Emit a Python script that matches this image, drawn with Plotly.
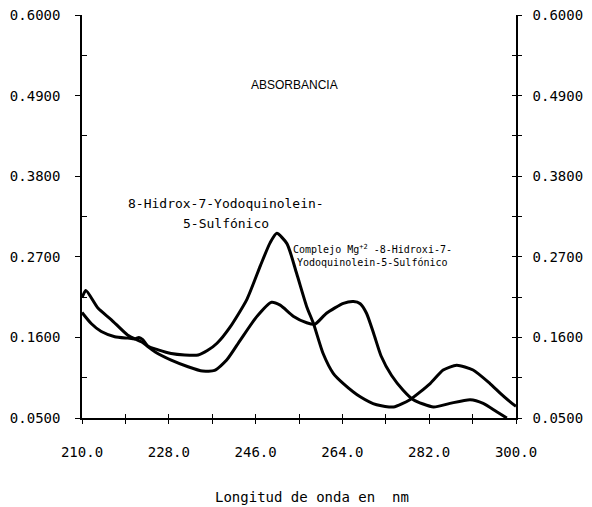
import plotly.graph_objects as go

# Absorption spectra: free ligand and its Mg(II) complex
wl_ligando = [210.0, 211.9, 214.0, 216.8, 219.5, 221.0, 221.8, 222.6, 223.7, 225.8,
              228.5, 231.3, 234.1, 236.0, 238.0, 240.7, 244.2, 247.0, 249.0, 250.4,
              252.5, 254.5, 256.6, 258.0, 260.0, 262.1, 264.2, 267.7, 271.1, 274.6,
              278.0, 282.2, 284.9, 287.7, 291.1, 294.6, 296.7, 298.8, 300.0]
abs_ligando = [0.194, 0.179, 0.168, 0.161, 0.159, 0.158, 0.160, 0.157, 0.148, 0.143,
               0.138, 0.136, 0.136, 0.142, 0.152, 0.174, 0.212, 0.258, 0.289, 0.302,
               0.288, 0.2475, 0.202, 0.179, 0.138, 0.111, 0.097, 0.079, 0.068, 0.065,
               0.075, 0.097, 0.1155, 0.122, 0.1155, 0.097, 0.084, 0.072, 0.066]

wl_complejo = [210.0, 210.8, 213.3, 216.1, 219.5, 222.3, 225.1, 228.5, 232.0, 235.0,
               237.5, 240.0, 242.8, 246.2, 249.3, 251.1, 253.8, 256.6, 258.3, 260.7,
               264.2, 266.3, 267.7, 269.0, 270.5, 272.0, 274.2, 276.6, 278.7, 282.9,
               286.3, 290.5, 293.2, 296.0, 298.1]
abs_complejo = [0.214, 0.224, 0.200, 0.184, 0.163, 0.154, 0.1405, 0.129, 0.120, 0.114,
                0.115, 0.129, 0.156, 0.188, 0.208, 0.204, 0.189, 0.180, 0.178, 0.193,
                0.2065, 0.209, 0.206, 0.193, 0.165, 0.135, 0.108, 0.088, 0.075, 0.065,
                0.070, 0.075, 0.070, 0.0586, 0.050]

# Axis ticks
x_major = [210, 228, 246, 264, 282, 300]
x_major_text = ["210.0", "228.0", "246.0", "264.0", "282.0", "300.0"]
x_minor = [219, 237, 255, 273, 291]
y_major = [0.05, 0.16, 0.27, 0.38, 0.49, 0.60]
y_major_text = ["0.0500", "0.1600", "0.2700", "0.3800", "0.4900", "0.6000"]
y_minor = [0.105, 0.215, 0.325, 0.435, 0.545]

MONO = "DejaVu Sans Mono"

fig = go.Figure()
fig.add_trace(go.Scatter(x=wl_ligando, y=abs_ligando, mode="lines",
                         line=dict(color="black", width=3, shape="spline", smoothing=0.6),
                         showlegend=False, hoverinfo="skip"))
fig.add_trace(go.Scatter(x=wl_complejo, y=abs_complejo, mode="lines",
                         line=dict(color="black", width=3, shape="spline", smoothing=0.6),
                         showlegend=False, hoverinfo="skip"))
# helper traces so the overlaying axes get drawn
fig.add_trace(go.Scatter(x=[None], y=[None], xaxis="x2", yaxis="y", showlegend=False))
fig.add_trace(go.Scatter(x=[None], y=[None], xaxis="x", yaxis="y2", showlegend=False))
fig.add_trace(go.Scatter(x=[None], y=[None], xaxis="x", yaxis="y3", showlegend=False))
fig.add_trace(go.Scatter(x=[None], y=[None], xaxis="x", yaxis="y4", showlegend=False))

tick_font = dict(family=MONO, size=14, color="black")
tk = dict(tickwidth=1, tickcolor="black")

fig.update_layout(
    width=592, height=507,
    margin=dict(l=82, r=76, t=15, b=89, autoexpand=False),
    paper_bgcolor="white", plot_bgcolor="white",
    xaxis=dict(range=[210, 300], showgrid=False, zeroline=False, automargin=False,
               showline=True, linecolor="black", linewidth=1.5,
               tickmode="array", tickvals=x_major, ticktext=x_major_text,
               ticks="outside", ticklen=4, **tk,
               minor=dict(tickmode="array", tickvals=x_minor, ticks="outside",
                          ticklen=4, showgrid=False, **tk),
               tickfont=tick_font, ticklabelstandoff=16),
    xaxis2=dict(range=[210, 300], overlaying="x", anchor="y", side="bottom",
                showgrid=False, zeroline=False, showline=False, automargin=False,
                tickmode="array", tickvals=sorted(x_major + x_minor),
                ticks="inside", ticklen=4, showticklabels=False, **tk),
    yaxis=dict(range=[0.05, 0.6], showgrid=False, zeroline=False, automargin=False,
               showline=True, linecolor="black", linewidth=1.5,
               tickmode="array", tickvals=y_major, ticktext=y_major_text,
               ticks="outside", ticklen=5, **tk,
               tickfont=tick_font, ticklabelstandoff=12),
    # inner ticks on the left axis
    yaxis4=dict(range=[0.05, 0.6], overlaying="y", anchor="x", side="left",
                showgrid=False, zeroline=False, showline=False, automargin=False,
                tickmode="array", tickvals=y_minor + [0.6], ticks="inside",
                ticklen=5, showticklabels=False, **tk),
    yaxis2=dict(range=[0.05, 0.6], overlaying="y", anchor="x", side="right",
                showgrid=False, zeroline=False, automargin=False,
                showline=True, linecolor="black", linewidth=1.5,
                tickmode="array", tickvals=y_major, ticktext=y_major_text,
                ticks="outside", ticklen=4, **tk,
                minor=dict(tickmode="array", tickvals=y_minor, ticks="outside",
                           ticklen=4, showgrid=False, **tk),
                tickfont=tick_font, ticklabelstandoff=8),
    yaxis3=dict(range=[0.05, 0.6], overlaying="y", anchor="x", side="right",
                showgrid=False, zeroline=False, showline=False, automargin=False,
                tickmode="array", tickvals=sorted(y_major + y_minor),
                ticks="inside", ticklen=4, showticklabels=False, **tk),
)

annotations = [
    dict(text="ABSORBANCIA", x=0.49, y=0.827, xref="paper", yref="paper",
         font=dict(family="Liberation Sans", size=12, color="black")),
    dict(text="8-Hidrox-7-Yodoquinolein-", x=239.8, y=0.343,
         font=dict(family=MONO, size=13, color="black")),
    dict(text="5-Sulfónico", x=239.8, y=0.315,
         font=dict(family=MONO, size=13, color="black")),
    dict(text="Complejo Mg<sup>+2</sup> -8-Hidroxi-7-", x=270.3, y=0.281,
         font=dict(family=MONO, size=10, color="black")),
    dict(text="Yodoquinolein-5-Sulfónico", x=270.3, y=0.2625,
         font=dict(family=MONO, size=10, color="black")),
    dict(text="Longitud de onda en\u00a0\u00a0nm", x=0.53, y=-0.197,
         xref="paper", yref="paper",
         font=dict(family=MONO, size=14, color="black")),
]
for a in annotations:
    a.setdefault("xref", "x")
    a.setdefault("yref", "y")
    a.update(showarrow=False, xanchor="center", yanchor="middle")
fig.update_layout(annotations=annotations)

fig.write_html("out.html")
